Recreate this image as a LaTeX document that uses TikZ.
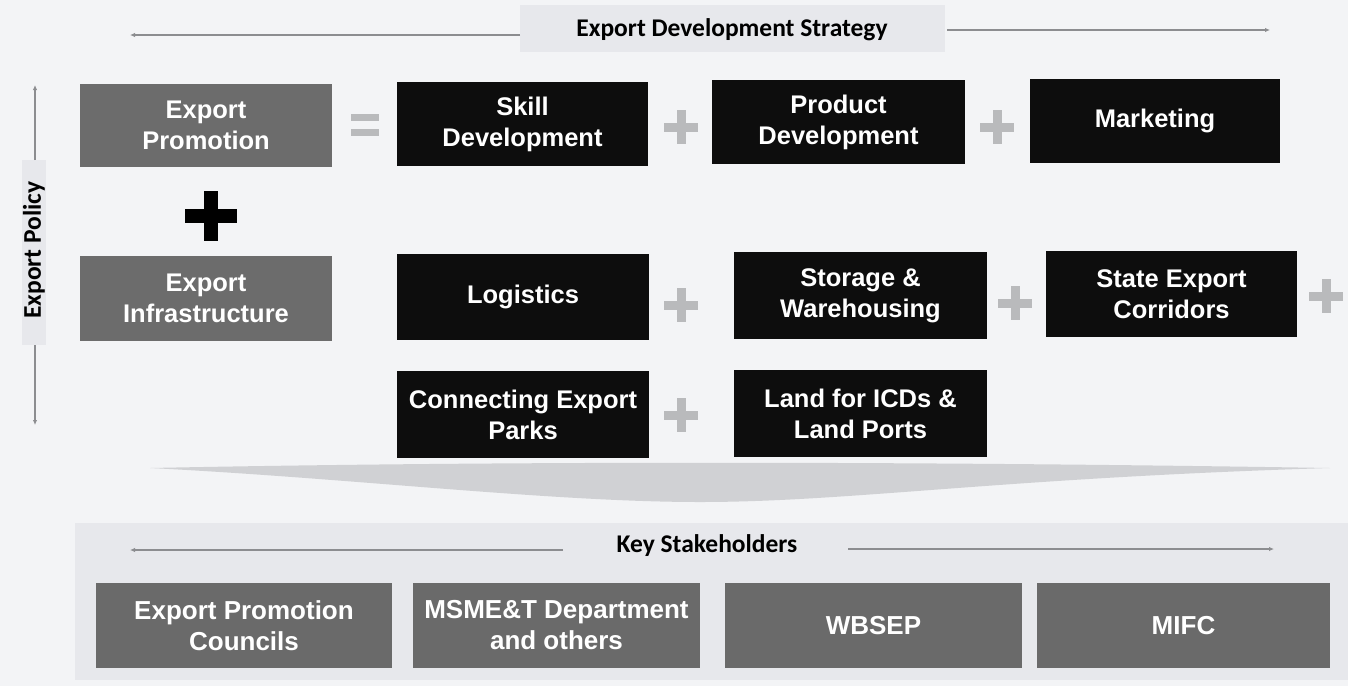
\documentclass[tikz,border=0pt]{standalone}
\usepackage{fontspec}
\setmainfont{Liberation Sans}
\newfontfamily\calib{Carlito}
\usetikzlibrary{arrows.meta}
\definecolor{bg}{HTML}{F3F4F6}
\definecolor{band}{HTML}{E7E8EC}
\definecolor{gboxc}{HTML}{6C6C6C}
\definecolor{bboxc}{HTML}{0D0D0D}
\definecolor{sboxc}{HTML}{6A6A6A}
\definecolor{plusg}{HTML}{B9BABC}
\definecolor{arrc}{HTML}{8C8D90}
\definecolor{shad}{HTML}{D0D1D4}
\tikzset{
  box/.style={draw=none, text=white, align=center, inner sep=0pt,
    font=\fontsize{25.5}{31}\selectfont\bfseries},
  gbox/.style={box, fill=gboxc},
  bbox/.style={box, fill=bboxc},
  sbox/.style={box, fill=sboxc, font=\fontsize{26}{31}\selectfont\bfseries},
  lbl/.style={font=\calib\fontsize{25.5}{30}\selectfont\bfseries, text=black, inner sep=2pt},
  arr/.style={draw=arrc, line width=1.3pt, -{Latex[length=5pt,width=4.5pt]}},
  gplus/.style={minimum size=34pt, inner sep=0pt, path picture={
      \fill[plusg] ([xshift=-4.5pt]path picture bounding box.north) rectangle ([xshift=4.5pt]path picture bounding box.south);
      \fill[plusg] ([yshift=-4.5pt]path picture bounding box.west) rectangle ([yshift=4.5pt]path picture bounding box.east);}},
  bplus/.style={minimum width=52pt, minimum height=50pt, inner sep=0pt, path picture={
      \fill[black] ([xshift=-7pt]path picture bounding box.north) rectangle ([xshift=7pt]path picture bounding box.south);
      \fill[black] ([yshift=-7pt]path picture bounding box.west) rectangle ([yshift=7pt]path picture bounding box.east);}},
  geq/.style={minimum width=28pt, minimum height=22pt, inner sep=0pt, path picture={
      \fill[plusg] (path picture bounding box.north west) rectangle ([yshift=-7pt]path picture bounding box.north east);
      \fill[plusg] (path picture bounding box.south west) rectangle ([yshift=7pt]path picture bounding box.south east);}}
}
\begin{document}
\begin{tikzpicture}[x=1pt,y=-1pt]
\useasboundingbox (0,0) rectangle (1348,686);
\fill[bg] (0,0) rectangle (1348,686);
% stakeholder band
\fill[band] (75,523) rectangle (1348,680);
% top banner
\fill[band] (520,5) rectangle (945,52);
\node[lbl] (eds) at (732,30) {Export Development Strategy};
\coordinate (edsL) at (130,35);
\coordinate (edsR) at (1270,30);
\draw[arr] (520,35) coordinate (edsLs) -- (edsL);
\draw[arr] (947,30) coordinate (edsRs) -- (edsR);
% export policy
\fill[band] (22,160) rectangle (46,345);
\node[lbl, rotate=90] (ep) at (34,250) {Export Policy};
\coordinate (epT) at (35,85);
\coordinate (epB) at (35,425);
\draw[arr] (35,160) coordinate (epTs) -- (epT);
\draw[arr] (35,345) coordinate (epBs) -- (epB);
% shadow lens
\fill[shad] (150,468) .. controls (500,461) and (900,461) .. (1330,468)
  .. controls (1000,478) and (850,502) .. (700,502)
  .. controls (550,502) and (350,478) .. (150,468) -- cycle;
% row 1
\node[gbox, minimum width=252pt, minimum height=83pt] (prom) at (206,125.5) {Export\\Promotion};
\node[geq] (eq) at (365,125) {};
\node[bbox, minimum width=251pt, minimum height=84pt] (skill) at (522.5,124) {Skill\\Development};
\node[gplus] (p1) at (681,127) {};
\node[bbox, minimum width=253pt, minimum height=84pt] (prod) at (838.5,122) {Product\\Development};
\node[gplus] (p2) at (997,127) {};
\node[bbox, minimum width=250pt, minimum height=84pt] (mkt) at (1155,121) {Marketing};
% big plus
\node[bplus] (bp) at (211,216) {};
% row 2
\node[gbox, minimum width=252pt, minimum height=85pt] (infra) at (206,298.5) {Export\\Infrastructure};
\node[bbox, minimum width=252pt, minimum height=86pt] (log) at (523,297) {Logistics};
\node[gplus] (p3) at (681,305) {};
\node[bbox, minimum width=253pt, minimum height=87pt] (stor) at (860.5,295.5) {Storage \&\\Warehousing};
\node[gplus] (p4) at (1015,303) {};
\node[bbox, minimum width=251pt, minimum height=86pt] (corr) at (1171.5,294) {State Export\\Corridors};
\node[gplus] (p5) at (1326,296) {};
% row 3
\node[bbox, minimum width=252pt, minimum height=87pt] (parks) at (523,414.5) {Connecting Export\\Parks};
\node[gplus] (p6) at (681,415) {};
\node[bbox, minimum width=253pt, minimum height=87pt] (land) at (860.5,413.5) {Land for ICDs \&\\Land Ports};
% key stakeholders
\node[lbl] (ks) at (707,546) {Key Stakeholders};
\coordinate (ksL) at (130,550);
\coordinate (ksR) at (1274,549);
\draw[arr] (563,550) coordinate (ksLs) -- (ksL);
\draw[arr] (848,549) coordinate (ksRs) -- (ksR);
\node[sbox, minimum width=296pt, minimum height=85pt] (epc) at (244,625.5) {Export Promotion\\Councils};
\node[sbox, minimum width=287pt, minimum height=85pt] (msme) at (556.5,625.5) {MSME\&T Department\\and others};
\node[sbox, minimum width=297pt, minimum height=85pt] (wbsep) at (873.5,625.5) {WBSEP};
\node[sbox, minimum width=293pt, minimum height=85pt] (mifc) at (1183.5,625.5) {MIFC};
\end{tikzpicture}
\end{document}
